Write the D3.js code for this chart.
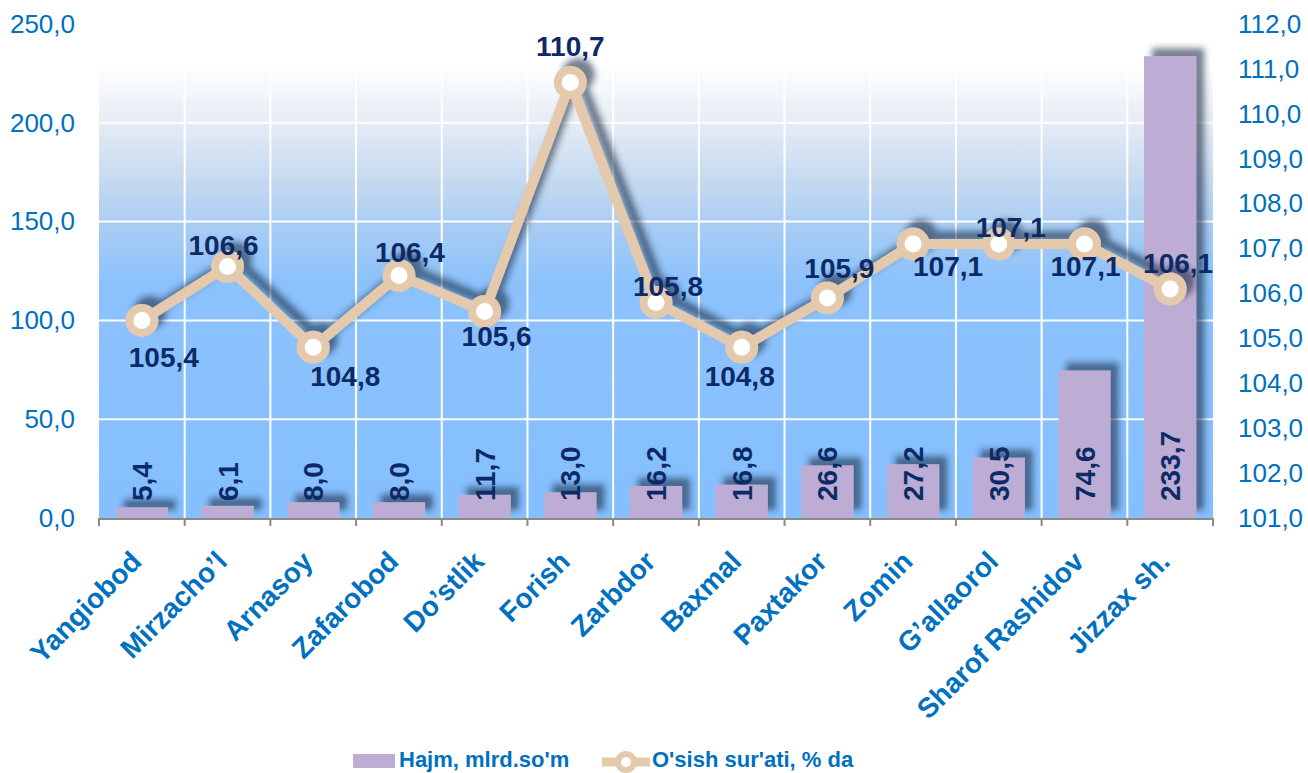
<!DOCTYPE html>
<html><head><meta charset="utf-8">
<script src="https://cdn.jsdelivr.net/npm/d3@7"></script>
<style>
html,body{margin:0;padding:0;background:#fff;}
svg{display:block;font-family:"Liberation Sans",Arial,sans-serif;}
</style></head>
<body>
<svg id="chart" width="1308" height="773"></svg>
<script>
// ---- data ----
const categories = ["Yangiobod","Mirzacho’l","Arnasoy","Zafarobod","Do’stlik","Forish","Zarbdor","Baxmal","Paxtakor","Zomin","G’allaorol","Sharof Rashidov","Jizzax sh."];
const volume = [5.4, 6.1, 8.0, 8.0, 11.7, 13.0, 16.2, 16.8, 26.6, 27.2, 30.5, 74.6, 233.7];
const growth = [105.4, 106.6, 104.8, 106.4, 105.6, 110.7, 105.8, 104.8, 105.9, 107.1, 107.1, 107.1, 106.1];
const leftTicks = [0, 50, 100, 150, 200, 250];
const rightTicks = [101, 102, 103, 104, 105, 106, 107, 108, 109, 110, 111, 112];
const seriesNames = ["Hajm, mlrd.so'm", "O'sish sur'ati, % da"];

// ---- layout (label placement offsets relative to markers) ----
const lineLabelOffsets = [[22,37],[-4,-22],[32,29],[11,-24],[12,25],[0,-36],[12,-17],[-2,29],[12,-30],[35,22],[12,-17],[1,22],[8,-26]];

const W = 1308, H = 773;
const plot = {left: 99, right: 1213, top: 24, bottom: 518};
const fmt = v => d3.format(".1f")(v).replace(".", ",");

const svg = d3.select("#chart");
const defs = svg.append("defs");
const grad = defs.append("linearGradient").attr("id","bg").attr("x1",0).attr("y1",0).attr("x2",0).attr("y2",1);
[[0,"#ffffff"],[0.08,"#ffffff"],[0.2,"#e6ecf5"],[0.32,"#c4d9f0"],[0.42,"#a6cbf4"],[0.52,"#8cc2fc"],[1,"#85bfff"]]
  .forEach(([o,c]) => grad.append("stop").attr("offset",o).attr("stop-color",c));

const f = defs.append("filter").attr("id","shadow").attr("filterUnits","userSpaceOnUse")
  .attr("x",0).attr("y",0).attr("width",W).attr("height",H);
f.append("feGaussianBlur").attr("in","SourceAlpha").attr("stdDeviation",3).attr("result","b");
f.append("feOffset").attr("in","b").attr("dx",8).attr("dy",-8).attr("result","o");
f.append("feFlood").attr("flood-color","#1b2c45").attr("flood-opacity",0.6).attr("result","c");
f.append("feComposite").attr("in","c").attr("in2","o").attr("operator","in").attr("result","s");
const m = f.append("feMerge");
m.append("feMergeNode").attr("in","s");
m.append("feMergeNode").attr("in","SourceGraphic");

const x = d3.scaleBand().domain(categories).range([plot.left, plot.right]).paddingInner(0.39).paddingOuter(0.195);
const yL = d3.scaleLinear().domain([0,250]).range([plot.bottom, plot.top]);
const yR = d3.scaleLinear().domain([101,112]).range([plot.bottom, plot.top]);
const cx = c => x(c) + x.bandwidth()/2;
const boundary = i => plot.left + i * x.step();

// background
svg.append("rect").attr("x",plot.left).attr("y",plot.top).attr("width",plot.right-plot.left)
  .attr("height",plot.bottom-plot.top).attr("fill","url(#bg)");

// gridlines
const grid = svg.append("g").attr("stroke","#ffffff").attr("stroke-width",2);
grid.selectAll("line.h").data(leftTicks.filter(t=>t>0)).join("line")
  .attr("x1",plot.left).attr("x2",plot.right).attr("y1",d=>yL(d)).attr("y2",d=>yL(d));
grid.selectAll("line.v").data(d3.range(1, categories.length)).join("line")
  .attr("x1",boundary).attr("x2",boundary).attr("y1",plot.top).attr("y2",plot.bottom);

// bars
svg.append("g").attr("filter","url(#shadow)").selectAll("rect").data(categories).join("rect")
  .attr("x", d=>x(d)).attr("width", x.bandwidth())
  .attr("y", (d,i)=>yL(volume[i])).attr("height",(d,i)=>yL(0)-yL(volume[i]))
  .attr("fill","#bdacd4");

// x axis line and ticks
const xa = svg.append("g").attr("stroke","#8a8a8a").attr("stroke-width",2);
xa.append("line").attr("x1",plot.left).attr("x2",plot.right).attr("y1",plot.bottom+1).attr("y2",plot.bottom+1);
xa.selectAll("line.t").data(d3.range(0, categories.length+1)).join("line")
  .attr("x1",boundary).attr("x2",boundary).attr("y1",plot.bottom).attr("y2",plot.bottom+8);

// bar value labels
svg.append("g").selectAll("text").data(categories).join("text")
  .attr("transform",(d)=>`translate(${cx(d)},501) rotate(-90)`)
  .attr("dy","0.36em").attr("text-anchor","start")
  .attr("font-size",28).attr("font-weight","bold").attr("fill","#0c2a66")
  .text((d,i)=>fmt(volume[i]));

// line + markers
const lg = svg.append("g").attr("filter","url(#shadow)");
lg.append("path").datum(categories)
  .attr("d", d3.line().x(d=>cx(d)).y((d,i)=>yR(growth[i])))
  .attr("fill","none").attr("stroke","#e5c9ad").attr("stroke-width",10).attr("stroke-linejoin","round");
lg.selectAll("circle").data(categories).join("circle")
  .attr("cx",d=>cx(d)).attr("cy",(d,i)=>yR(growth[i])).attr("r",12.5)
  .attr("fill","#ffffff").attr("stroke","#e5c9ad").attr("stroke-width",8);

// line value labels
svg.append("g").selectAll("text").data(categories).join("text")
  .attr("x",(d,i)=>cx(d)+lineLabelOffsets[i][0]).attr("y",(d,i)=>yR(growth[i])+lineLabelOffsets[i][1])
  .attr("dy","0.36em").attr("text-anchor","middle")
  .attr("font-size",28).attr("font-weight","bold").attr("fill","#0c2a66")
  .text((d,i)=>fmt(growth[i]));

// left axis
const axL = svg.append("g").attr("transform",`translate(${plot.left},0)`)
  .call(d3.axisLeft(yL).tickValues(leftTicks).tickSize(0).tickPadding(24).tickFormat(fmt));
axL.select(".domain").remove();
axL.selectAll("text").attr("font-size",26).attr("fill","#0070c0").attr("font-family","Liberation Sans, Arial, sans-serif");

// right axis
const axR = svg.append("g").attr("transform",`translate(${plot.right},0)`)
  .call(d3.axisRight(yR).tickValues(rightTicks).tickSize(0).tickPadding(25).tickFormat(fmt));
axR.select(".domain").remove();
axR.selectAll("text").attr("font-size",26).attr("fill","#0070c0").attr("font-family","Liberation Sans, Arial, sans-serif");

// x labels
const axB = svg.append("g").attr("transform",`translate(0,${plot.bottom})`)
  .call(d3.axisBottom(x).tickSize(0));
axB.select(".domain").remove();
axB.selectAll(".tick text")
  .attr("transform","translate(-13,31) rotate(-45)")
  .attr("x",0).attr("y",0).attr("dy","0.72em")
  .attr("text-anchor","end").attr("font-size",28).attr("font-weight","bold")
  .attr("fill","#0070c0").attr("font-family","Liberation Sans, Arial, sans-serif");

// legend
const leg = svg.append("g");
leg.append("rect").attr("x",353).attr("y",754).attr("width",42).attr("height",14).attr("fill","#bdacd4");
leg.append("text").attr("x",399).attr("y",767).attr("font-size",22).attr("font-weight","bold").attr("fill","#0070c0").text(seriesNames[0]);
leg.append("line").attr("x1",602).attr("x2",650).attr("y1",762).attr("y2",762).attr("stroke","#e5c9ad").attr("stroke-width",9);
leg.append("circle").attr("cx",626).attr("cy",762).attr("r",8).attr("fill","#fff").attr("stroke","#e5c9ad").attr("stroke-width",6);
leg.append("text").attr("x",652).attr("y",767).attr("font-size",22).attr("font-weight","bold").attr("fill","#0070c0").text(seriesNames[1]);
</script>
</body></html>
